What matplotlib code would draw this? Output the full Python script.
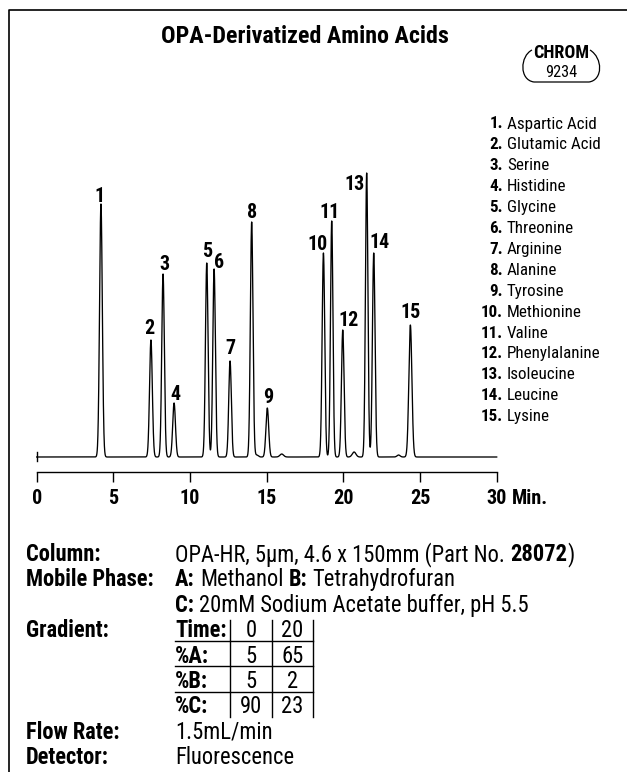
import numpy as np
import matplotlib
matplotlib.use("Agg")
import matplotlib.pyplot as plt
from matplotlib import font_manager as fm
from matplotlib.path import Path
from matplotlib.patches import PathPatch
from matplotlib.transforms import IdentityTransform

# ---------------- data ----------------
peak_numbers = list(range(1, 16))
compound_names = ["Aspartic Acid", "Glutamic Acid", "Serine", "Histidine", "Glycine",
                  "Threonine", "Arginine", "Alanine", "Tyrosine", "Methionine",
                  "Valine", "Phenylalanine", "Isoleucine", "Leucine", "Lysine"]
retention_times = [4.19, 7.45, 8.24, 8.96, 11.09, 11.57, 12.61, 14.02, 15.04,
                   18.70, 19.24, 19.96, 21.52, 21.98, 24.37]
peak_heights = [253, 117, 183, 54, 194, 188, 96, 235, 49, 204, 236, 127, 284, 204, 132]
peak_widths = [0.09, 0.09, 0.085, 0.09, 0.085, 0.085, 0.085, 0.085, 0.09,
               0.085, 0.08, 0.085, 0.08, 0.085, 0.10]
minor_times = [14.35, 15.98, 20.70, 23.60]
minor_heights = [2, 3, 5, 2]
minor_widths = [0.10, 0.12, 0.12, 0.10]

x_ticks = [0, 5, 10, 15, 20, 25, 30]
x_unit = "Min."

grad_rows = ["Time:", "%A:", "%B:", "%C:"]
grad_time = [0, 20]
grad_A = [5, 65]
grad_B = [5, 2]
grad_C = [90, 23]

title = "OPA-Derivatized Amino Acids"

# ---------------- fonts ----------------
entries = fm.fontManager.ttflist


def wnum(w):
    if isinstance(w, (int, float)):
        return w
    return {"bold": 700, "heavy": 800, "black": 900, "semibold": 600, "demibold": 600}.get(str(w).lower(), 400)


prefs = ["Nimbus Sans Narrow", "Liberation Sans Narrow", "Arial Narrow", "Roboto Condensed",
         "PT Sans Narrow", "Pragati Narrow", "Encode Sans Condensed", "Fira Sans Condensed",
         "Barlow Semi Condensed", "Archivo Narrow", "Asap Condensed"]
COND = "Liberation Sans"
for p in prefs:
    ws = [wnum(f.weight) for f in entries if f.name == p]
    if ws and max(ws) >= 600 and min(ws) <= 500:
        COND = p
        break
FAM = [COND, "DejaVu Sans"]

W, H = 627, 772
fig = plt.figure(figsize=(W / 100, H / 100), dpi=100)
fig.patch.set_facecolor("white")
renderer = fig.canvas.get_renderer()

ov = fig.add_axes([0, 0, 1, 1])
ov.set_xlim(0, W)
ov.set_ylim(H, 0)
ov.axis("off")


def measure(s, bold, size=10):
    tt = ov.text(0, 0, s, family=FAM, weight="bold" if bold else "normal", fontsize=size)
    w = tt.get_window_extent(renderer).width
    tt.remove()
    return w


def fit(s, bold, target):
    return 10.0 * target / measure(s, bold, 10)


# frame (left + top)
ov.plot([9.3, 9.3, W], [H, 10, 10], color="black", lw=1.2, solid_capstyle="butt")

# title
ov.text(305, 43, title, family=FAM, weight="bold", fontsize=fit(title, True, 288),
        ha="center", va="baseline")

# CHROM badge
ov.text(561, 58, "CHROM", family=FAM, weight="bold", fontsize=fit("CHROM", True, 56),
        ha="center", va="baseline")
ov.text(561, 77, "9234", family=FAM, fontsize=fit("9234", False, 32), ha="center", va="baseline")
verts = [(532, 50), (520, 56), (519, 80), (534, 82), (589, 82),
         (603, 80), (603, 58), (590, 50)]
codes = [Path.MOVETO, Path.CURVE4, Path.CURVE4, Path.CURVE4, Path.LINETO,
         Path.CURVE4, Path.CURVE4, Path.CURVE4]
ov.add_patch(PathPatch(Path(verts, codes), fill=False, lw=0.9, ec="black"))

# ---------------- chromatogram ----------------
x0_px, x1_px = 36.7, 496.7
axis_px, top_px = 471.7, 140
base_px = 457.0
ax = fig.add_axes([x0_px / W, 1 - axis_px / H, (x1_px - x0_px) / W, (axis_px - top_px) / H])
ax.set_xlim(0, 30)
ax.set_ylim(-(axis_px - base_px), base_px - top_px)
for s in ["top", "right", "left"]:
    ax.spines[s].set_visible(False)
ax.spines["bottom"].set_linewidth(1.0)
ax.set_facecolor("none")
ax.set_yticks([])
ax.set_xticks(x_ticks)
ax.set_xticklabels([str(v) for v in x_ticks])
TICK_FS = fit("30", True, 20.5)
for lab in ax.get_xticklabels():
    lab.set_family(FAM)
    lab.set_weight("bold")
    lab.set_fontsize(TICK_FS)
ax.tick_params(axis="x", direction="out", length=7.2, width=1.0, pad=5.0)

t = np.linspace(0, 30, 6001)
sig = np.zeros_like(t)
for rt, h, w in zip(retention_times + minor_times, peak_heights + minor_heights,
                    peak_widths + minor_widths):
    sig += h * np.exp(-0.5 * ((t - rt) / w) ** 2)
ax.plot(t, sig, color="black", lw=0.95, clip_on=False)
ax.plot([0, 0], [-4, 5], color="black", lw=1.0, clip_on=False)

PEAK_FS = fit("13", True, 20.5)
lab_dx = [-1, -1.3, 1, 1.3, 0, 5, 0, 0, 1.3, -6, -1.7, 5.6, -12.4, 6.3, 0.4]
lab_gap = [2.3, 5.7, 4, 3, 5.7, 1, 7, 4, 5, 3, 3.3, 4.3, -17, 5, 7]
for n, rt, h, dx, g in zip(peak_numbers, retention_times, peak_heights, lab_dx, lab_gap):
    ax.annotate(str(n), xy=(rt, h), xytext=(dx * 0.72, g * 0.72), textcoords="offset points",
                ha="center", va="baseline", family=FAM, weight="bold", fontsize=PEAK_FS)

fig.canvas.draw()
bb = ax.get_xticklabels()[-1].get_window_extent(renderer)
fig.text(bb.x1 + 5, bb.y0, x_unit, transform=IdentityTransform(), family=FAM,
         weight="bold", fontsize=TICK_FS, ha="left", va="bottom")

# ---------------- legend list ----------------
LEG_FS = fit("Aspartic Acid", False, 89)
leg_y0, leg_dy = 128.5, 20.9
for i, (n, name) in enumerate(zip(peak_numbers, compound_names)):
    y = leg_y0 + i * leg_dy
    ov.text(503, y, f"{n}.", family=FAM, weight="bold", fontsize=LEG_FS, ha="right", va="baseline")
    ov.text(507, y, name, family=FAM, fontsize=LEG_FS, ha="left", va="baseline")

# ---------------- conditions block ----------------
FS = fit("OPA-HR, 5µm, 4.6 x 150mm (Part No. 28072)", False, 396)
lab_x, val_x = 26, 175
row0, rdy = 561, 25.4
space_w = measure("a a", False, FS) - measure("aa", False, FS)


def runs(x, y, parts):
    for k, (s, b) in enumerate(parts):
        tt = ov.text(x, y, s, family=FAM, weight="bold" if b else "normal", fontsize=FS,
                     ha="left", va="baseline")
        x += tt.get_window_extent(renderer).width
        if k < len(parts) - 1 and parts[k + 1][0][:1] not in ")":
            x += space_w


labels = ["Column:", "Mobile Phase:", None, "Gradient:", None, None, None, "Flow Rate:", "Detector:"]
for i, L in enumerate(labels):
    if L:
        ov.text(lab_x, row0 + i * rdy, L, family=FAM, weight="bold", fontsize=FS, va="baseline")

runs(val_x, row0, [("OPA-HR, 5µm, 4.6 x 150mm (Part No.", False), ("28072", True), (")", False)])
runs(val_x, row0 + rdy, [("A:", True), ("Methanol", False), ("B:", True), ("Tetrahydrofuran", False)])
runs(val_x, row0 + 2 * rdy, [("C:", True), ("20mM Sodium Acetate buffer, pH 5.5", False)])
ov.text(val_x, row0 + 7 * rdy, "1.5mL/min", family=FAM, fontsize=FS, va="baseline")
ov.text(val_x, row0 + 8 * rdy, "Fluorescence", family=FAM, fontsize=FS, va="baseline")

vx = [230, 271.7, 313.3]
cx = [(vx[0] + vx[1]) / 2, (vx[1] + vx[2]) / 2]
tab_vals = [grad_time, grad_A, grad_B, grad_C]
for r, (rl, vals) in enumerate(zip(grad_rows, tab_vals)):
    y = row0 + (3 + r) * rdy
    ov.text(val_x, y, rl, family=FAM, weight="bold", fontsize=FS, va="baseline")
    for c, v in enumerate(vals):
        ov.text(cx[c], y, str(v), family=FAM, fontsize=FS, ha="center", va="baseline")
    if r < 3:
        ov.plot([val_x, vx[2]], [y + 3.5, y + 3.5], color="black", lw=1.0)
top_t = row0 + 3 * rdy - 17
bot_t = row0 + 6 * rdy + 4
for v in vx:
    ov.plot([v, v], [top_t, bot_t], color="black", lw=1.0)

fig.savefig("out.png", dpi=100, facecolor="white")
